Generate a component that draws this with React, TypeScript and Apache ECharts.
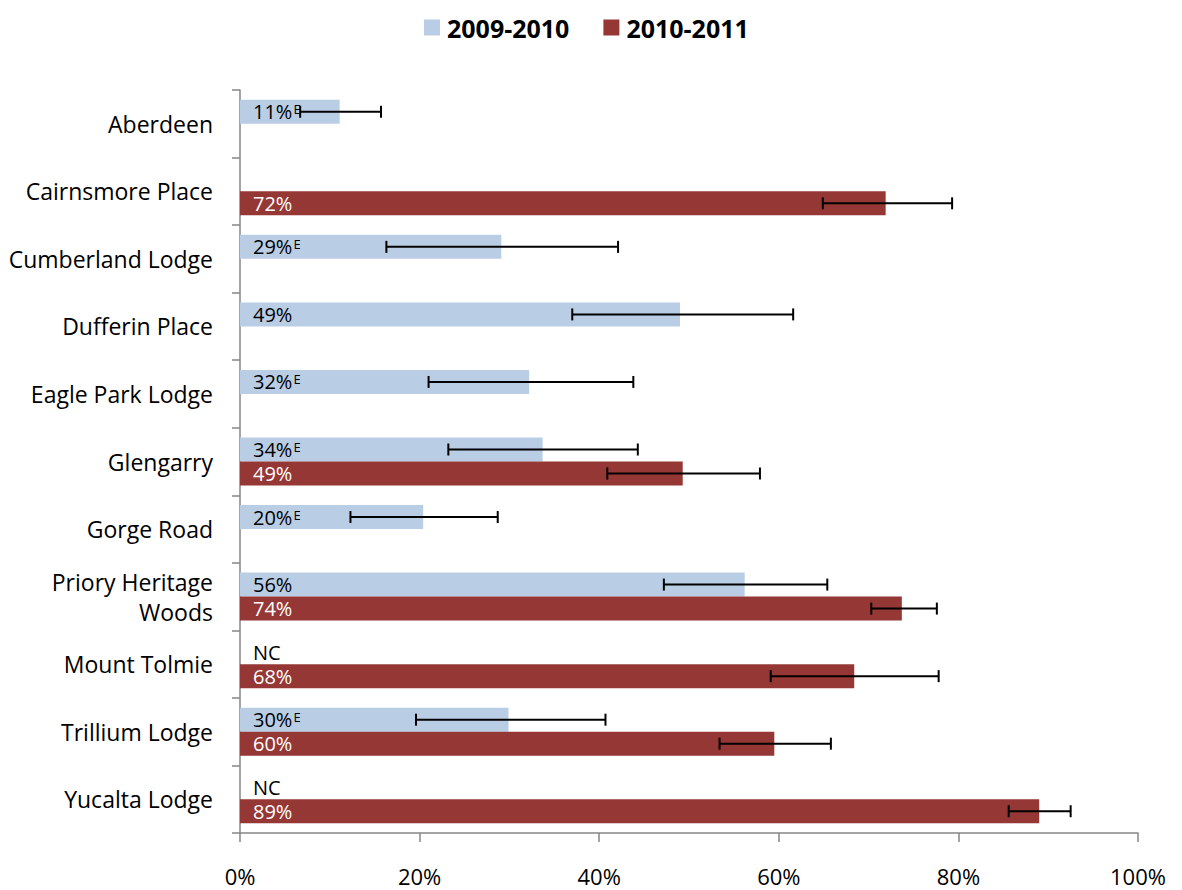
import React, { useEffect, useRef } from "react";
import * as echarts from "echarts";

const categories = [
  "Aberdeen",
  "Cairnsmore Place",
  "Cumberland Lodge",
  "Dufferin Place",
  "Eagle Park Lodge",
  "Glengarry",
  "Gorge Road",
  "Priory Heritage\nWoods",
  "Mount Tolmie",
  "Trillium Lodge",
  "Yucalta Lodge",
];

const seriesNames = ["2009-2010", "2010-2011"];

// bar values (%), null = no bar
const values0910 = [11.1, null, 29.1, 49.0, 32.2, 33.7, 20.4, 56.2, null, 29.9, null];
const values1011 = [null, 71.9, null, null, null, 49.3, null, 73.7, 68.4, 59.5, 89.0];

// "E" (use with caution) flags and "NC" (not collected) flags for 2009-2010
const flagE0910 = [true, false, true, false, true, true, true, false, false, true, false];
const notCollected0910 = [false, false, false, false, false, false, false, false, true, false, true];

// confidence intervals (%)
const errLow0910 = [6.7, null, 16.3, 37.0, 21.0, 23.2, 12.3, 47.2, null, 19.6, null];
const errHigh0910 = [15.7, null, 42.1, 61.6, 43.8, 44.3, 28.7, 65.4, null, 40.7, null];
const errLow1011 = [null, 64.9, null, null, null, 40.9, null, 70.3, 59.1, 53.4, 85.6];
const errHigh1011 = [null, 79.3, null, null, null, 57.9, null, 77.6, 77.8, 65.8, 92.5];

const xTicks = { min: 0, max: 100, interval: 20 };

const FONT = "'Open Sans', 'Noto Sans', sans-serif";
const BLUE = "#B9CDE5";
const RED = "#953735";
const AXIS = "#868686";
const BAR_W = 24;

export default function App() {
  const ref = useRef<HTMLDivElement>(null);

  useEffect(() => {
    document.body.style.margin = "0";
    if (!ref.current) return;
    const chart = echarts.init(ref.current, null, { renderer: "svg" });

    const blueData = values0910.map((v, i) => (notCollected0910[i] ? 0 : v));

    const errData0910 = categories
      .map((_, i) => [i, errLow0910[i], errHigh0910[i], -1])
      .filter((d) => d[1] != null);
    const errData1011 = categories
      .map((_, i) => [i, errLow1011[i], errHigh1011[i], 1])
      .filter((d) => d[1] != null);

    const renderErr = (params: any, api: any) => {
      const idx = api.value(0);
      const lo = api.value(1);
      const hi = api.value(2);
      const side = api.value(3);
      const p1 = api.coord([lo, idx]);
      const p2 = api.coord([hi, idx]);
      const y = p1[1] + side * (BAR_W / 2);
      const cap = 6;
      const style = { stroke: "#000", lineWidth: 2 };
      return {
        type: "group",
        children: [
          { type: "line", shape: { x1: p1[0], y1: y, x2: p2[0], y2: y }, style },
          { type: "line", shape: { x1: p1[0], y1: y - cap, x2: p1[0], y2: y + cap }, style },
          { type: "line", shape: { x1: p2[0], y1: y - cap, x2: p2[0], y2: y + cap }, style },
        ],
      };
    };

    const labelRich = {
      v: { fontSize: 20, fontFamily: FONT, lineHeight: 18, color: "#000" },
      e: { fontSize: 13, fontFamily: FONT, verticalAlign: "top", lineHeight: 12, padding: [0, 0, 0, 1], color: "#000" },
      w: { fontSize: 20, fontFamily: FONT, lineHeight: 18, color: "#fff" },
    };

    chart.setOption({
      animation: false,
      textStyle: { fontFamily: FONT },
      legend: {
        top: 10,
        left: 419,
        itemWidth: 16,
        itemHeight: 16,
        itemGap: 34,
        icon: "rect",
        textStyle: { fontSize: 25, fontWeight: "bold", color: "#000", fontFamily: FONT, padding: [0, 0, 0, 2] },
        data: seriesNames,
      },
      grid: { left: 240, right: 44, top: 90, bottom: 57, containLabel: false },
      xAxis: {
        type: "value",
        min: xTicks.min,
        max: xTicks.max,
        interval: xTicks.interval,
        axisLine: { show: true, lineStyle: { color: AXIS, width: 1.5 } },
        axisTick: { show: true, length: 9, lineStyle: { color: AXIS, width: 1.5 } },
        splitLine: { show: false },
        axisLabel: {
          formatter: "{value}%",
          margin: 32,
          fontSize: 22,
          lineHeight: 22,
          color: "#000",
          fontFamily: FONT,
        },
      },
      yAxis: {
        type: "category",
        inverse: true,
        data: categories,
        axisLine: { show: true, lineStyle: { color: AXIS, width: 1.5 } },
        axisTick: { show: true, length: 8, lineStyle: { color: AXIS, width: 1.5 } },
        axisLabel: {
          margin: 27,
          fontSize: 23,
          lineHeight: 30,
          color: "#000",
          fontFamily: FONT,
          align: "right",
        },
      },
      series: [
        {
          name: seriesNames[0],
          type: "bar",
          data: blueData,
          barWidth: BAR_W,
          barGap: "0%",
          itemStyle: { color: BLUE },
          label: {
            show: true,
            position: "insideLeft",
            distance: 13,
            color: "#000",
            rich: labelRich,
            formatter: (p: any) => {
              const i = p.dataIndex;
              if (notCollected0910[i]) return "{v|NC}";
              const txt = `{v|${Math.round(p.value)}%}`;
              return flagE0910[i] ? txt + "{e|E}" : txt;
            },
          },
          z: 2,
        },
        {
          name: seriesNames[1],
          type: "bar",
          data: values1011,
          barWidth: BAR_W,
          barGap: "0%",
          itemStyle: { color: RED },
          label: {
            show: true,
            position: "insideLeft",
            distance: 13,
            color: "#fff",
            rich: labelRich,
            formatter: (p: any) => `{w|${Math.round(p.value)}%}`,
          },
          z: 2,
        },
        {
          type: "custom",
          name: "err0910",
          renderItem: renderErr,
          data: errData0910,
          encode: { x: [1, 2], y: 0 },
          z: 5,
          silent: true,
        },
        {
          type: "custom",
          name: "err1011",
          renderItem: renderErr,
          data: errData1011,
          encode: { x: [1, 2], y: 0 },
          z: 5,
          silent: true,
        },
      ],
    });

    return () => chart.dispose();
  }, []);

  return <div ref={ref} style={{ width: 1182, height: 890 }} />;
}
